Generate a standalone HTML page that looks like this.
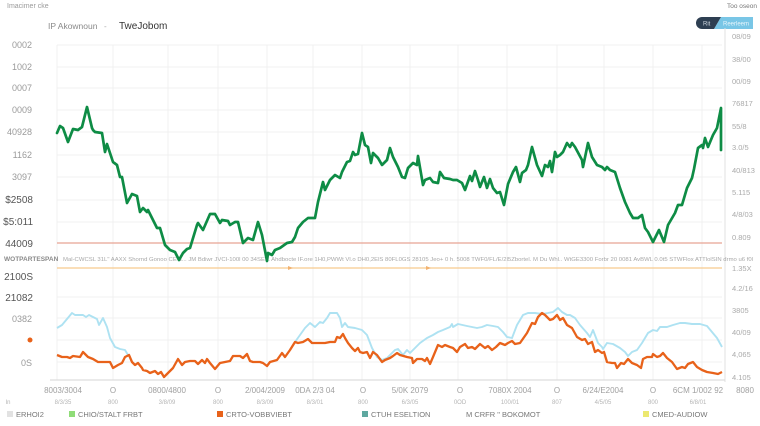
<!DOCTYPE html>
<html><head><meta charset="utf-8"><style>
html,body{margin:0;padding:0;background:#fff;}
svg{display:block;font-family:"Liberation Sans",sans-serif;}
</style></head><body>
<svg width="760" height="426" viewBox="0 0 760 426" xmlns="http://www.w3.org/2000/svg">
<rect width="760" height="426" fill="#fff"/>
<!-- header -->
<text x="7" y="8" font-size="7" fill="#9a9a9a">Imacimer cke</text>
<text x="48" y="29" font-size="8.5" fill="#8a8a8a">IP Akownoun</text>
<text x="104" y="29" font-size="8" fill="#aaa">-</text>
<text x="119" y="29" font-size="10" fill="#333">TweJobom</text>
<text x="727" y="8" font-size="6.5" fill="#777">Too oseon</text>
<path d="M721,17 L753,17 L753,29 L714,29 Z" fill="#79c6e6"/>
<path d="M702,17 L721,17 L714,29 L702,29 A6,6 0 0 1 702,17 Z" fill="#2e3f52"/>
<text x="703" y="25.5" font-size="6" fill="#cfd8e0">Rit</text>
<text x="723" y="25.5" font-size="6" fill="#e8f6fc">Reerleem</text>

<!-- grid -->
<g stroke="#f0f0f0" stroke-width="1">
<line x1="57" y1="45" x2="722" y2="45"/><line x1="57" y1="67" x2="722" y2="67"/><line x1="57" y1="88" x2="722" y2="88"/>
<line x1="57" y1="110" x2="722" y2="110"/><line x1="57" y1="132" x2="722" y2="132"/><line x1="57" y1="155" x2="722" y2="155"/>
<line x1="57" y1="177" x2="722" y2="177"/><line x1="57" y1="200" x2="722" y2="200"/><line x1="57" y1="222" x2="722" y2="222"/>
<line x1="57" y1="297" x2="722" y2="297"/><line x1="57" y1="318" x2="722" y2="318"/><line x1="57" y1="340" x2="722" y2="340"/><line x1="57" y1="362" x2="722" y2="362"/>
<line x1="57" y1="45" x2="57" y2="380"/><line x1="113" y1="45" x2="113" y2="380"/><line x1="168" y1="45" x2="168" y2="380"/>
<line x1="218" y1="45" x2="218" y2="380"/><line x1="267" y1="45" x2="267" y2="380"/><line x1="313" y1="45" x2="313" y2="380"/>
<line x1="362" y1="45" x2="362" y2="380"/><line x1="410" y1="45" x2="410" y2="380"/><line x1="458" y1="45" x2="458" y2="380"/>
<line x1="507" y1="45" x2="507" y2="380"/><line x1="557" y1="45" x2="557" y2="380"/><line x1="604" y1="45" x2="604" y2="380"/>
<line x1="653" y1="45" x2="653" y2="380"/><line x1="702" y1="45" x2="702" y2="380"/>
</g>
<line x1="725" y1="28" x2="725" y2="382" stroke="#e2e2e2" stroke-width="1"/>
<line x1="50" y1="380" x2="725" y2="380" stroke="#d6d6d6" stroke-width="1"/>

<!-- left labels -->
<g font-size="9" fill="#9a9a9a" text-anchor="end">
<text x="32" y="48">0002</text><text x="32" y="70">1002</text><text x="32" y="91">0007</text>
<text x="32" y="113">0009</text><text x="32" y="135">40928</text><text x="32" y="158">1162</text>
<text x="32" y="180">3097</text>
</g>
<g font-size="10" fill="#555" text-anchor="end">
<text x="33" y="203">$2508</text><text x="33" y="225">$5:011</text><text x="33" y="247">44009</text>
<text x="33" y="280">2100S</text><text x="33" y="301">21082</text>
</g>
<g font-size="9" fill="#9a9a9a" text-anchor="end">
<text x="32" y="322">0382</text><text x="32" y="366">0S</text>
</g>
<circle cx="30" cy="340" r="2.5" fill="#e8621a"/>

<!-- right labels -->
<g font-size="7.5" fill="#aaa">
<text x="732" y="39">08/09</text><text x="732" y="62">38/00</text><text x="732" y="84">00/09</text>
<text x="732" y="106">76817</text><text x="732" y="129">55/8</text><text x="732" y="150">3.0/5</text>
<text x="732" y="173">40/813</text><text x="732" y="195">5.115</text><text x="732" y="217">4/8/03</text>
<text x="732" y="240">0.809</text><text x="732" y="271">1.35X</text>
<text x="732" y="291">4.2/16</text><text x="732" y="313">3805</text><text x="732" y="335">40/09</text>
<text x="732" y="357">4,065</text><text x="732" y="380">4.105</text>
</g>

<!-- reference lines -->
<line x1="57" y1="243" x2="722" y2="243" stroke="#e8a493" stroke-width="1.2"/>
<line x1="57" y1="268" x2="722" y2="268" stroke="#f6c98e" stroke-width="1.3"/>
<path d="M288,266 L293,268 L288,270 Z M426,266 L431,268 L426,270 Z" fill="#f2b270"/>
<text x="4" y="261" font-size="6.5" fill="#8a8a8a" font-weight="bold">WOTPARTESPAN</text>
<text x="63" y="261" font-size="5.6" fill="#a8a8a8" textLength="690" lengthAdjust="spacingAndGlyphs">Mal-CWCSL 31L" AAXX Shornd Gonoo CE d... JM Bdiwr JVCI-100l 00 34SE... Ahdbocte IF.ore 1H0,PWWt Vl.o DH0,2ElS 80FL0GS 28105 Jeo+ 0 h. 5008 TWF0/FL/E/2l5Zbortel. M Du Whl.. WtGE3300 Forbr 20 0081 AvBWL 0.0t5 STWFlox ATTlolSIN drmo u6 f0l</text>

<!-- green series -->
<polyline fill="none" stroke="#0e8c45" stroke-width="2.7" stroke-linejoin="round" stroke-linecap="round" points="57,133 60,126 63,128 68,142 73,129 78,130 82,127 87,107 92,128 93,130 95,132 102,133 105,152 107,144 110,153 113,162 117,165 120,177 122,177 127,203 132,194 137,196 140,212 143,208 147,212 148,210 153,220 157,228 160,228 165,245 170,250 175,252 179,260 183,253 187,249 190,248 197,225 198,223 203,230 210,214 215,214 220,223 222,220 228,221 230,225 235,222 238,222 243,243 248,238 253,240 258,222 262,235 267,261 268,253 272,255 275,250 280,248 287,243 292,242 295,237 298,228 303,222 308,218 315,218 318,202 323,182 325,190 330,180 335,175 340,178 342,172 347,162 350,161 353,152 355,155 358,154 362,133 365,145 368,147 371,163 373,153 378,158 382,165 387,160 390,148 393,157 398,167 402,177 405,178 408,168 413,163 417,165 418,156 423,185 425,180 430,178 433,182 438,183 440,172 444,178 450,179 453,180 457,180 462,183 465,190 470,176 472,181 475,171 478,180 480,187 484,177 487,188 490,179 493,188 497,193 500,192 504,205 508,184 513,172 516,167 520,182 522,173 526,170 528,165 532,147 537,165 542,176 545,165 548,167 550,161 552,172 555,152 557,157 560,155 563,152 567,143 570,147 572,143 575,147 582,160 583,167 588,143 592,157 597,165 602,167 605,170 607,167 610,170 615,172 620,188 625,202 630,213 633,218 638,218 642,215 645,228 648,232 653,242 655,238 659,230 664,242 668,225 675,213 678,205 682,205 687,188 692,178 694,169 698,148 702,145 703,148 705,138 708,147 713,135 717,128 721,108 721,150"/>

<!-- light blue series -->
<g fill="none" stroke="#aee2f2" stroke-width="1.9" stroke-linejoin="round">
<polyline points="57,328 62,325 67,319 72,313 75,315 83,315 86,317 89,315 93,317 97,319 99,325 103,318 107,327 110,338 115,347 120,349 125,350 128,355"/>
<polyline points="295,342 300,335 305,328 310,323 315,327 320,322 323,323 327,318 330,313 337,313 340,318 342,327 345,323 348,327 355,328 362,330 367,335 372,348 377,357 382,360 387,358 395,350 398,349 403,355 407,350 410,353 413,350 420,343 427,338 433,335 438,332 443,330 450,327 452,324 453,327 458,324 467,326 477,328 482,327 487,325 493,326 498,327 503,332 507,337 512,338 517,325 523,315 528,313 535,313 542,314 548,313 553,312 558,308 562,312 567,315 570,315 575,318 580,325 587,333 590,337 593,330 598,343 602,347 603,349 607,343 613,344 620,348 625,352 628,356 632,352 637,350 642,343 648,333 653,330 657,331 660,327 667,327 673,325 680,323 685,323 692,324 700,324 707,326 712,332 717,338 722,347"/>
</g>

<!-- orange series -->
<polyline fill="none" stroke="#e8621a" stroke-width="2.3" stroke-linejoin="round" points="57,355 62,357 67,357 70,358 73,356 80,357 83,352 88,357 93,359 98,362 105,362 110,362 113,368 118,365 122,363 125,357 129,355 132,362 135,365 138,363 142,368 143,370 147,371 150,373 155,371 158,374 161,372 164,377 168,373 173,368 178,359 182,365 185,362 190,361 195,361 198,364 202,360 205,363 207,359 210,363 215,369 220,363 225,362 230,361 233,356 240,356 243,358 247,354 250,361 253,362 260,362 263,363 267,366 270,362 277,360 282,353 285,357 290,350 295,342 298,343 303,342 308,339 312,343 315,343 320,343 325,343 330,342 335,342 337,337 340,338 343,334 345,338 348,343 352,348 355,351 358,348 360,352 363,353 367,352 370,358 373,352 377,355 382,362 385,360 390,358 393,356 397,353 400,355 407,357 412,358 413,363 417,359 422,359 425,361 427,358 430,364 433,357 438,345 442,347 445,345 450,347 453,348 457,352 460,347 465,344 468,348 472,347 475,349 480,344 485,348 488,346 492,350 496,347 500,343 505,345 508,343 512,341 515,344 520,343 527,333 532,323 535,324 538,317 542,313 545,315 550,320 553,319 557,315 560,320 563,318 567,325 572,328 577,337 582,340 585,339 588,344 592,342 595,352 598,350 602,353 604,352 607,362 612,363 615,363 617,368 621,363 624,364 628,359 632,363 637,365 641,368 643,359 647,357 652,357 653,354 657,357 660,356 663,353 667,358 672,362 677,369 682,367 685,368 688,364 693,362 697,367 702,370 707,372 713,373 718,374 722,372"/>

<!-- x labels -->
<g font-size="8" fill="#a0a0a0" text-anchor="middle">
<text x="63" y="393">8003/3004</text><text x="113" y="393">O</text><text x="167" y="393">0800/4800</text>
<text x="218" y="393">O</text><text x="265" y="393">2/004/2009</text><text x="315" y="393">0DA 2/3 04</text>
<text x="363" y="393">O</text><text x="410" y="393">5/0K 2079</text><text x="460" y="393">O</text>
<text x="510" y="393">7080X 2004</text><text x="557" y="393">O</text><text x="603" y="393">6/24/E2004</text>
<text x="653" y="393">O</text><text x="698" y="393">6CM 1/002 92</text><text x="745" y="393">8080</text>
</g>
<g font-size="6" fill="#b5b5b5" text-anchor="middle">
<text x="8" y="404">In</text>
<text x="63" y="404">8/3/35</text><text x="113" y="404">800</text><text x="167" y="404">3/8/09</text>
<text x="218" y="404">800</text><text x="265" y="404">8/3/09</text><text x="315" y="404">8/3/01</text>
<text x="363" y="404">800</text><text x="410" y="404">6/3/05</text><text x="460" y="404">0OD</text>
<text x="510" y="404">100/01</text><text x="557" y="404">807</text><text x="603" y="404">4/5/05</text>
<text x="653" y="404">800</text><text x="698" y="404">6/8/01</text>
</g>

<!-- legend -->
<g font-size="7.5" fill="#777">
<rect x="7" y="411" width="6" height="6" fill="#e2e2e2"/><text x="16" y="417">ERHOI2</text>
<rect x="69" y="411" width="6" height="6" fill="#8fdc78"/><text x="78" y="417">CHIO/STALT FRBT</text>
<rect x="217" y="411" width="6" height="6" fill="#e8621a"/><text x="226" y="417">CRTO-VOBBVIEBT</text>
<rect x="362" y="411" width="6" height="6" fill="#5fa8a0"/><text x="371" y="417">CTUH ESELTION</text>
<text x="466" y="417">M  CRFR " BOKOMOT</text>
<rect x="643" y="411" width="6" height="6" fill="#ece870"/><text x="652" y="417">CMED-AUDIOW</text>
</g>
</svg>
</body></html>
